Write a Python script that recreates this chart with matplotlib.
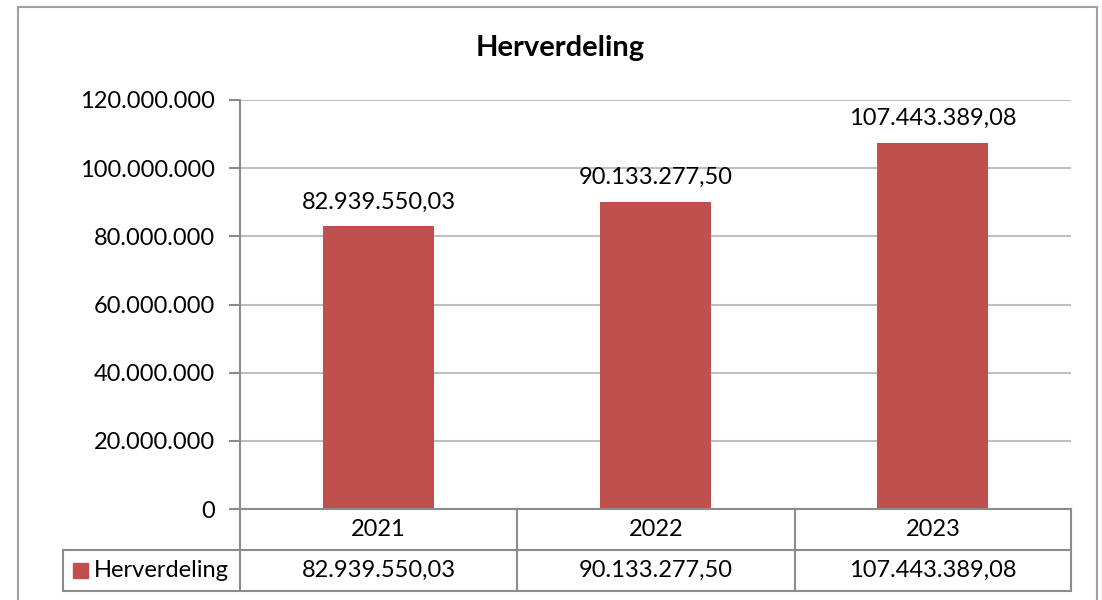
import matplotlib
matplotlib.use("Agg")
import matplotlib.pyplot as plt
from matplotlib.lines import Line2D
from matplotlib.patches import Rectangle

# data
years = ["2021", "2022", "2023"]
herverdeling = [82939550.03, 90133277.50, 107443389.08]
series_name = "Herverdeling"
y_ticks = [0, 20000000, 40000000, 60000000, 80000000, 100000000, 120000000]

bar_color = "#C0504D"
grid_color = "#BFBFBF"
line_color = "#8C8C8C"

plt.rcParams["font.family"] = ["Lato", "DejaVu Sans"]
FS = 17

W, H = 1102, 600


def nl(v, dec=2):
    # Dutch number format: 1.234.567,89
    s = f"{v:,.{dec}f}"
    return s.replace(",", "X").replace(".", ",").replace("X", ".")


def fx(px):
    return px / W


def fy(py):
    return 1 - py / H


fig = plt.figure(figsize=(W / 100, H / 100), dpi=100)

# outer chart border
fig.add_artist(Rectangle((fx(18), fy(620)), fx(1097) - fx(18), fy(7) - fy(620),
                         transform=fig.transFigure, fill=False,
                         edgecolor="#A0A0A0", linewidth=1.5))

fig.text(fx(560), fy(48), series_name, ha="center", va="center",
         fontsize=21, fontweight="bold")

left, right, top, zero = 240, 1071, 100, 509
ax = fig.add_axes([fx(left), fy(zero), fx(right) - fx(left), fy(top) - fy(zero)])

x = range(len(years))
ax.bar(x, herverdeling, width=0.4, color=bar_color, zorder=3)
ax.set_xlim(-0.5, len(years) - 0.5)
ax.set_ylim(0, 120000000)
ax.set_yticks(y_ticks)
ax.set_yticklabels([nl(t, 0) for t in y_ticks], fontsize=FS)
ax.set_xticks([])
ax.grid(axis="y", color=grid_color, linewidth=1.5, zorder=0)
for side in ["top", "right", "bottom"]:
    ax.spines[side].set_visible(False)
ax.spines["left"].set_color(line_color)
ax.spines["left"].set_linewidth(1.5)
ax.tick_params(axis="y", length=8, width=1.5, color=line_color, pad=10)

for xi, v in zip(x, herverdeling):
    ax.annotate(nl(v), (xi, v), xytext=(0, 10), textcoords="offset points",
                ha="center", va="bottom", fontsize=FS)

# data table below the plot
row1, row2 = 550, 591
cols = [left, 517, 795, right]
lw = 1.5


def hline(x0, x1, y):
    fig.add_artist(Line2D([fx(x0), fx(x1)], [fy(y), fy(y)],
                          transform=fig.transFigure, color=line_color, lw=lw))


def vline(x0, y0, y1):
    fig.add_artist(Line2D([fx(x0), fx(x0)], [fy(y0), fy(y1)],
                          transform=fig.transFigure, color=line_color, lw=lw))


hline(left, right, zero)
hline(63, right, row1)
hline(63, right, row2)
vline(63, row1, row2)
for c in cols:
    vline(c, zero, row2)

for i, (yr, v) in enumerate(zip(years, herverdeling)):
    cx = (cols[i] + cols[i + 1]) / 2
    fig.text(fx(cx), fy((zero + row1) / 2), yr, ha="center", va="center", fontsize=FS)
    fig.text(fx(cx), fy((row1 + row2) / 2), nl(v), ha="center", va="center", fontsize=FS)

fig.add_artist(Rectangle((fx(73), fy(578)), fx(15), fy(563) - fy(578),
                         transform=fig.transFigure, color=bar_color))
fig.text(fx(94), fy((row1 + row2) / 2), series_name, ha="left", va="center", fontsize=FS)

fig.savefig("out.png", dpi=100)
